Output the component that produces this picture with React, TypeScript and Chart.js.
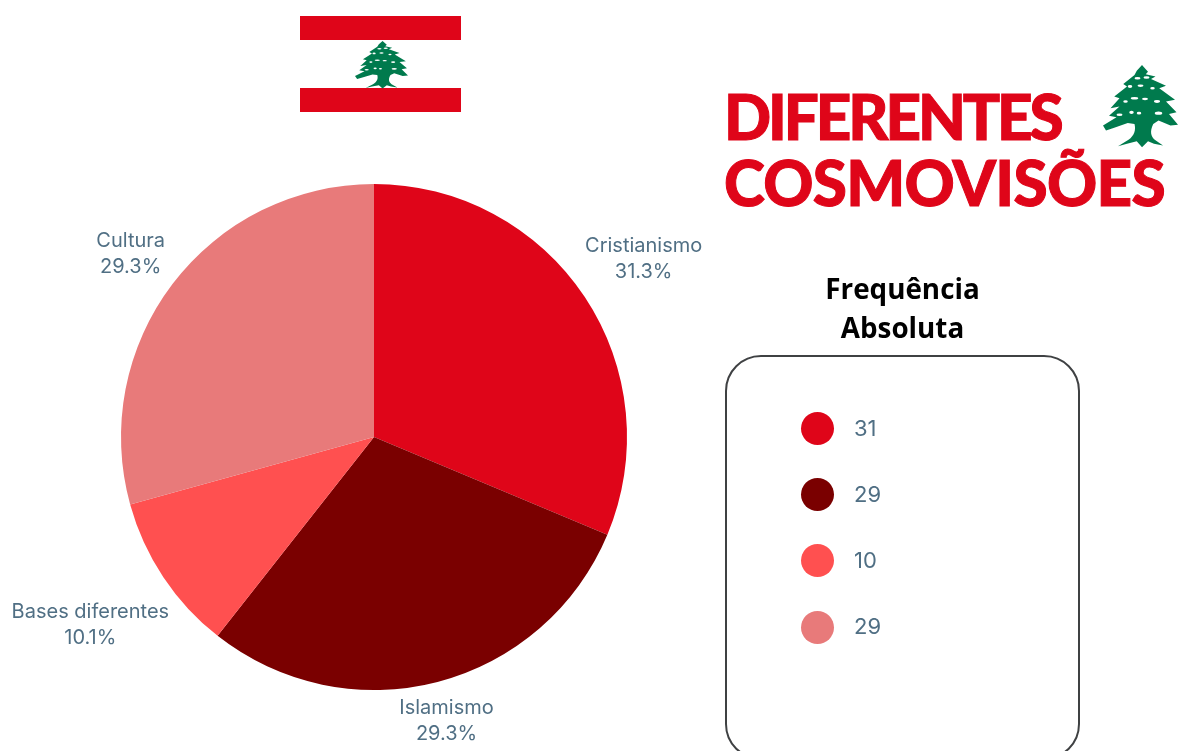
import React, { useEffect, useRef } from "react";
import { Chart, registerables } from "chart.js";

Chart.register(...registerables);

const categories = ["Cristianismo", "Islamismo", "Bases diferentes", "Cultura"];
const frequencies = [31, 29, 10, 29];
const percentLabels = ["31.3%", "29.3%", "10.1%", "29.3%"];
const sliceColors = ["#DF0519", "#7A0000", "#FF5050", "#E87A7A"];

const TITLE_LINES = ["DIFERENTES", "COSMOVISÕES"];
const LEGEND_HEADING = ["Frequência", "Absoluta"];

const LABEL_COLOR = "#506F84";
const LABEL_FONT = 'Inter, sans-serif';
const CEDAR_GREEN = "#007A4D";
const FLAG_RED = "#DF0519";

// Shift of each label's centre from the outer midpoint of its slice.
const labelShift = [
  { x: 59, y: -39 },
  { x: 9, y: 38 },
  { x: -73, y: 47 },
  { x: -42, y: -31 },
];

// Writes category and percentage beside each slice, anchored on the arc geometry.
const sliceLabels = {
  id: "sliceLabels",
  afterDatasetsDraw(chart: any) {
    const { ctx } = chart;
    const arcs = chart.getDatasetMeta(0).data;
    ctx.save();
    ctx.font = `20px ${LABEL_FONT}`;
    ctx.fillStyle = LABEL_COLOR;
    ctx.textAlign = "center";
    ctx.textBaseline = "middle";
    arcs.forEach((arc: any, i: number) => {
      const mid = (arc.startAngle + arc.endAngle) / 2;
      const px = arc.x + Math.cos(mid) * arc.outerRadius + labelShift[i].x;
      const py = arc.y + Math.sin(mid) * arc.outerRadius + labelShift[i].y;
      ctx.fillText(categories[i], px, py - 12);
      ctx.fillText(percentLabels[i], px, py + 14);
    });
    ctx.restore();
  },
};

function Cedar({ left, top, width, height }: { left: number; top: number; width: number; height: number }) {
  const specks = [
    [46, 16, 4, 1.5], [58, 15, 4, 1.5], [36, 26, 3, 1.8], [50, 25, 4, 1.4], [66, 28, 3, 1.6],
    [42, 40, 5, 1.5], [56, 41, 4, 1.4], [30, 44, 3, 1.6], [72, 44, 4, 1.8], [38, 57, 3, 2],
    [48, 58, 3, 1.6], [74, 58, 5, 2], [22, 60, 4, 1.5],
  ];
  return (
    <svg
      viewBox="0 0 100 100"
      preserveAspectRatio="none"
      style={{ position: "absolute", left, top, width, height }}
    >
      <path
        fill={CEDAR_GREEN}
        d="M52 0 L60 8 L57 11 L70 14 L64 17 L84 25 L75 28 L96 42 L84 44 L98 57 L88 59 L100 72
           L90 73 L74 67 L67 71 C62 80 64 86 69 90 L80 97 L68 95 L60 92 L52 99 L45 92 L32 95 L20 98
           L34 90 C42 85 44 78 42 71 L33 70 L14 76 L4 79 L0 73 L18 63 L8 61 L22 50 L10 52 L22 40
           L15 38 L32 26 L27 23 L42 12 L45 7 Z"
      />
      {specks.map(([cx, cy, rx, ry], i) => (
        <ellipse key={i} cx={cx} cy={cy} rx={rx} ry={ry} fill="#ffffff" />
      ))}
    </svg>
  );
}

function Flag() {
  const bar = (top: number) => (
    <div style={{ position: "absolute", left: 300, top, width: 161, height: 24, background: FLAG_RED }} />
  );
  return (
    <>
      {bar(16)}
      {bar(88)}
      <Cedar left={355} top={41} width={53} height={48} />
    </>
  );
}

function Title() {
  return (
    <>
      {TITLE_LINES.map((line, i) => (
        <div
          key={line}
          style={{
            position: "absolute",
            left: 724,
            top: i === 0 ? 79 : 145,
            fontFamily: "Lato, sans-serif",
            fontWeight: 900,
            fontSize: 62,
            lineHeight: "74px",
            letterSpacing: i === 0 ? -3.1 : -0.7,
            color: FLAG_RED,
            WebkitTextStroke: `1px ${FLAG_RED}`,
            whiteSpace: "nowrap",
          }}
        >
          {line}
        </div>
      ))}
      <Cedar left={1103} top={65} width={75} height={83} />
    </>
  );
}

function FrequencyPanel() {
  return (
    <>
      {LEGEND_HEADING.map((line, i) => (
        <div
          key={line}
          style={{
            position: "absolute",
            left: 725,
            width: 355,
            top: 269 + i * 39,
            textAlign: "center",
            fontFamily: '"Open Sans", sans-serif',
            fontWeight: 700,
            fontSize: 27.8,
            lineHeight: "39px",
            color: "#000000",
          }}
        >
          {line}
        </div>
      ))}
      <div
        style={{
          position: "absolute",
          left: 725,
          top: 355,
          width: 355,
          height: 405,
          boxSizing: "border-box",
          border: "2px solid #3F4143",
          borderRadius: 36,
        }}
      />
      {frequencies.map((value, i) => (
        <React.Fragment key={categories[i]}>
          <div
            style={{
              position: "absolute",
              left: 801,
              top: 412 + i * 66.2,
              width: 33,
              height: 33,
              borderRadius: "50%",
              background: sliceColors[i],
            }}
          />
          <div
            style={{
              position: "absolute",
              left: 854,
              top: 411 + i * 66,
              fontFamily: LABEL_FONT,
              fontSize: 22,
              lineHeight: "34px",
              color: LABEL_COLOR,
            }}
          >
            {value}
          </div>
        </React.Fragment>
      ))}
    </>
  );
}

export default function App() {
  const canvasRef = useRef<HTMLCanvasElement>(null);

  useEffect(() => {
    document.body.style.margin = "0";
    const chart = new Chart(canvasRef.current!, {
      type: "pie",
      data: {
        labels: categories,
        datasets: [{ data: frequencies, backgroundColor: sliceColors, borderWidth: 0 }],
      },
      options: {
        responsive: false,
        animation: false,
        layout: { padding: { left: 121, right: 551, top: 184, bottom: 61 } },
        plugins: { legend: { display: false }, tooltip: { enabled: false } },
      },
      plugins: [sliceLabels],
    });
    return () => chart.destroy();
  }, []);

  return (
    <div style={{ position: "relative", width: 1178, height: 751, overflow: "hidden", background: "#ffffff" }}>
      <canvas ref={canvasRef} width={1178} height={751} style={{ position: "absolute", left: 0, top: 0 }} />
      <Flag />
      <Title />
      <FrequencyPanel />
    </div>
  );
}
